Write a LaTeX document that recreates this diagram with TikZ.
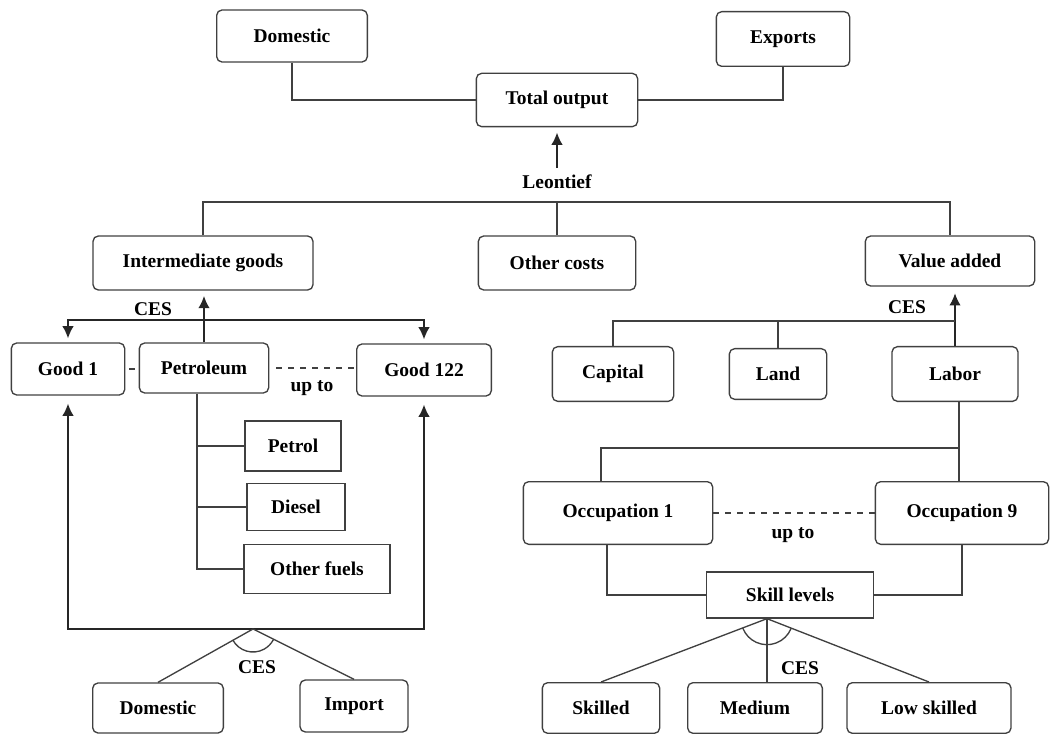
\documentclass[tikz,border=0pt]{standalone}
\usepackage{fontspec}
\setmainfont{Liberation Serif}
\usepackage{tikz}
\usetikzlibrary{arrows.meta,positioning}

\begin{document}
\begin{tikzpicture}[
  x=0.75pt, y=-0.75pt,
  font=\fontsize{14.6}{17}\selectfont\bfseries,
  box/.style={draw=black!75, line width=1pt, rounded corners=4pt, align=center, inner sep=2pt},
  sqbox/.style={draw=black!75, line width=1pt, align=center, inner sep=2pt},
  link/.style={draw=black!75, line width=1pt},
  dots/.style={link, dash pattern=on 4.5pt off 4.5pt},
  arrow/.style={-{Latex[length=3.2mm,width=3mm]}, line width=1pt, draw=black!85, shorten >=4pt},
  lbl/.style={inner sep=1pt}
]
\useasboundingbox (0,0) rectangle (1057,734);

% top level
\node[box, minimum width=113pt, minimum height=39pt] (domtop) at (292,36) {Domestic};
\node[box, minimum width=100pt, minimum height=41pt] (exports) at (783,39) {Exports};
\node[box, minimum width=121pt, minimum height=40pt] (total) at (557,100) {Total output};
\node[lbl] (leon) at (557,182) {Leontief};

\node[box, minimum width=165pt, minimum height=40.5pt] (inter) at (203,263) {Intermediate goods};
\node[box, minimum width=118pt, minimum height=40.5pt] (other) at (557,263) {Other costs};
\node[box, minimum width=127pt, minimum height=37.5pt] (va) at (950,261) {Value added};
\coordinate (top) at (557,202);

\draw[link] (domtop) |- (total);
\draw[link] (exports) |- (total);
\draw[arrow, shorten <=4pt] (leon) -- (total);
\draw[link] (inter.north) |- (top) -| (va.north);
\draw[link] (other.north) -- (top);

% intermediate goods
\node[box, minimum width=85pt, minimum height=39pt] (good1) at (68,369) {Good 1};
\node[box, minimum width=97pt, minimum height=37.5pt] (petro) at (204,368) {Petroleum};
\node[box, minimum width=101pt, minimum height=39pt] (good122) at (424,370) {Good 122};
\node[lbl] (cesl) at (153,309) {CES};
\node[lbl] (upto1) at (312,388) {up to};
\coordinate (cessplit) at (204,320);

\draw[arrow] (petro.north) -- (petro.north |- inter.south);
\draw[arrow, shorten >=3pt] (cessplit) -| (good1.north);
\draw[arrow, shorten >=3pt] (cessplit) -| (good122.north);
\draw[dots, shorten <=3pt, shorten >=3pt] (good1.east) -- (good1.east -| petro.west);
\draw[dots, shorten <=5pt] (petro.east) -- (petro.east -| good122.west);

\node[sqbox, minimum width=72pt, minimum height=37.5pt] (petrol) at (293,446) {Petrol};
\node[sqbox, minimum width=73.5pt, minimum height=35.25pt] (diesel) at (296,507) {Diesel};
\node[sqbox, minimum width=109.5pt, minimum height=36.75pt] (otherf) at (317,569) {Other fuels};
\coordinate (trunk) at ([xshift=-5.25pt]petro.south);

\draw[link] (trunk) |- (otherf.west);
\draw[link] (petrol.west) -- (petrol.west -| trunk);
\draw[link] (diesel.west) -- (diesel.west -| trunk);

% armington
\node[box, minimum width=98pt, minimum height=37.5pt] (domb) at (158,708) {Domestic};
\node[box, minimum width=81pt, minimum height=39pt] (import) at (354,706) {Import};
\node[lbl] (cesa) at (257,667) {CES};
\coordinate (mix) at (253,629);

\draw[arrow, shorten >=6pt] (mix) -| (good1.south);
\draw[arrow, shorten >=6pt] (mix) -| (good122.south);
\draw[link] (mix) -- (domb.north);
\draw[link] (mix) -- (import.north);
\draw[link] ([shift={(209:17.25pt)}]mix) arc[start angle=209, end angle=332, radius=17.25pt];

% value added
\node[box, minimum width=91pt, minimum height=41pt] (capital) at (613,374) {Capital};
\node[box, minimum width=73pt, minimum height=38pt] (land) at (778,374) {Land};
\node[box, minimum width=94.5pt, minimum height=41pt] (labor) at (955,374) {Labor};
\node[lbl] (cesv) at (907,307) {CES};
\coordinate (vasplit) at (955,321);

\draw[arrow, shorten >=5pt] (labor.north) -- (labor.north |- va.south);
\draw[link] (capital.north) |- (vasplit);
\draw[link] (land.north) -- (land.north |- vasplit);

% labor
\node[box, minimum width=142pt, minimum height=47pt] (occ1) at (618,513) {Occupation 1};
\node[box, minimum width=130pt, minimum height=47pt] (occ9) at (962,513) {Occupation 9};
\node[lbl] (upto2) at (793,535) {up to};
\coordinate (labsplit) at ([xshift=3pt]labor.south |- 0,448);

\draw[link] ([xshift=3pt]labor.south) -- ([xshift=3pt]labor.south |- occ9.north);
\draw[link] ([xshift=-12.75pt]occ1.north) |- (labsplit);
\draw[dots] (occ1.east) -- (occ9.west);

\node[sqbox, minimum width=125pt, minimum height=34.5pt] (skill) at (790,595) {Skill levels};
\draw[link] ([xshift=-8.25pt]occ1.south) |- (skill.west);
\draw[link] (occ9.south) |- (skill.east);

\node[box, minimum width=88pt, minimum height=38pt] (skilled) at (601,708) {Skilled};
\node[box, minimum width=101pt, minimum height=38pt] (medium) at (755,708) {Medium};
\node[box, minimum width=123pt, minimum height=38pt] (low) at (929,708) {Low skilled};
\node[lbl] (cess) at (800,668) {CES};
\coordinate (skmix) at ([xshift=-17.25pt]skill.south);

\draw[link] (skmix) -- (skilled.north);
\draw[link] (skmix) -- (skmix |- medium.north);
\draw[link] (skmix) -- (low.north);
\draw[link] ([shift={(201:19.5pt)}]skmix) arc[start angle=201, end angle=338, radius=19.5pt];
\end{tikzpicture}
\end{document}
